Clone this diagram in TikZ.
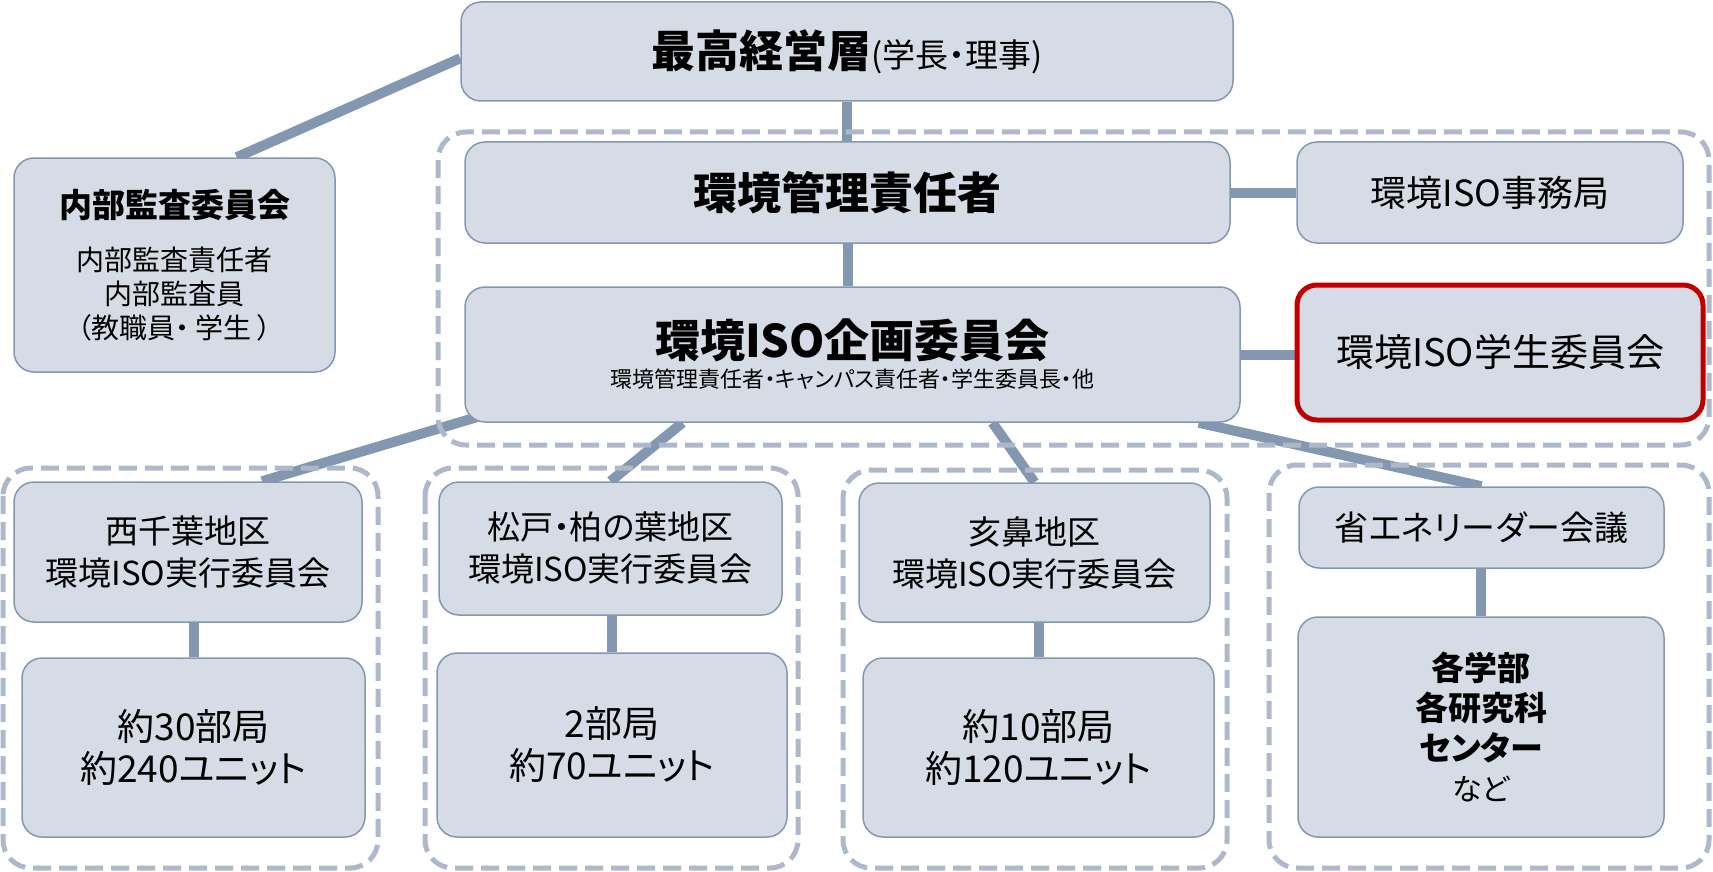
\documentclass[tikz,border=0pt]{standalone}
\usepackage{fontspec}
\setmainfont{Noto Sans CJK JP}[RawFeature=+palt]
\usetikzlibrary{calc,backgrounds}
\definecolor{boxfill}{HTML}{D6DCE5}
\definecolor{boxline}{HTML}{8497B0}
\definecolor{linkgray}{HTML}{8497B0}
\definecolor{dashgray}{HTML}{ADB9CA}
\definecolor{isored}{HTML}{C00000}
\newcommand{\setfs}[2]{\fontsize{#1}{#2}\selectfont}

\begin{document}
\begin{tikzpicture}[x=1pt, y=-1pt,
  orgbox/.style={draw=boxline, line width=1.5pt, rounded corners=20pt,
                 fill=boxfill, inner sep=0pt, align=center},
  studentbox/.style={orgbox, draw=isored, line width=5pt},
  areabox/.style={orgbox, font=\setfs{33}{42}},
  unitbox/.style={orgbox, font=\setfs{37}{42}},
  grp/.style={draw=dashgray, line width=5pt, dash pattern=on 18pt off 8pt,
              rounded corners=28pt},
  link/.style={draw=linkgray, line width=10pt},
]
\useasboundingbox (0,0) rectangle (1713,872);

% Top management
\node[orgbox, minimum width=772pt, minimum height=99pt] (keiei) at (847,51.5)
  {{\setfs{44}{50}\bfseries 最高経営層}{\setfs{33}{40}(学長・理事)}};

% Internal audit
\node[orgbox, minimum width=321pt, minimum height=214pt, font=\setfs{28}{34}] (naibu) at (174.5,265)
  {{\setfs{33}{40}\bfseries 内部監査委員会}\\[19pt]内部監査責任者\\内部監査員\\（教職員・ 学生 ）};

% Environment ISO block
\node[orgbox, minimum width=765pt, minimum height=101pt, font=\setfs{44}{50}\bfseries] (kanri) at (847.5,192.5)
  {環境管理責任者};
\node[orgbox, minimum width=386pt, minimum height=101pt, font=\setfs{36}{42}] (jimu) at (1490,192.5)
  {環境ISO事務局};
\node[orgbox, minimum width=775pt, minimum height=135pt, font=\setfs{22}{26}] (kikaku) at (852.5,354.5)
  {{\setfs{45}{50}\bfseries 環境ISO企画委員会}\\[4pt]環境管理責任者・キャンパス責任者・学生委員長・他};
\node[studentbox, minimum width=406pt, minimum height=135pt, font=\setfs{38}{44}] (gakusei) at (1500,352.5)
  {環境ISO学生委員会};

% Campus committees
\node[areabox, minimum width=348pt, minimum height=140pt] (nishi1) at (188,552) {西千葉地区\\環境ISO実行委員会};
\node[unitbox, minimum width=343pt, minimum height=179pt] (nishi2) at (193.5,747.5) {約30部局\\約240ユニット};
\node[areabox, minimum width=343pt, minimum height=133pt] (matsudo1) at (610.5,548.5) {松戸・柏の葉地区\\環境ISO実行委員会};
\node[unitbox, minimum width=350pt, minimum height=184pt] (matsudo2) at (612,745) {2部局\\約70ユニット};
\node[areabox, minimum width=351pt, minimum height=139pt] (inohana1) at (1034.5,552.5) {亥鼻地区\\環境ISO実行委員会};
\node[unitbox, minimum width=351pt, minimum height=179pt] (inohana2) at (1038.5,747.5) {約10部局\\約120ユニット};

% Energy saving
\node[orgbox, minimum width=365pt, minimum height=81pt, font=\setfs{34}{40}] (shoene1) at (1481.5,527.5) {省エネリーダー会議};
\node[orgbox, minimum width=366pt, minimum height=220pt, font=\setfs{33}{40}] (shoene2) at (1481,727)
  {{\bfseries 各学部}\\{\bfseries 各研究科}\\{\bfseries センター}\\{\setfs{30}{40}など}};

\begin{scope}[on background layer]
  % connectors
  \draw[link] (keiei.181) -- (naibu.60);
  \draw[link] (keiei.south) -- (keiei.south |- kanri.north);
  \draw[link] (kanri.south) -- (kanri.south |- kikaku.north);
  \draw[link] (kanri.east) -- (jimu.west);
  \draw[link] (kikaku.east) -- (kikaku.east -| gakusei.west);
  \draw[link] ($(kikaku.south west)+(14,-6)$) -- ($(nishi1.north)+(74,0)$);
  \draw[link] ($(kikaku.south)+(-170,0)$) -- (matsudo1.north);
  \draw[link] ($(kikaku.south)+(140,0)$) -- (inohana1.north);
  \draw[link] ($(kikaku.south east)+(-42,0)$) -- (shoene1.north);
  \foreach \g in {nishi,matsudo,inohana,shoene}
    \draw[link] (\g2.north |- \g1.south) -- (\g2.north);

  % dashed groups
  \draw[grp] (438,132) rectangle (1709,445);
  \draw[grp] (3,468) rectangle (378,868);
  \draw[grp] (425,468) rectangle (798,868);
  \draw[grp] (843,470) rectangle (1227,868);
  \draw[grp] (1269,465) rectangle (1709,868);
\end{scope}

\end{tikzpicture}
\end{document}
